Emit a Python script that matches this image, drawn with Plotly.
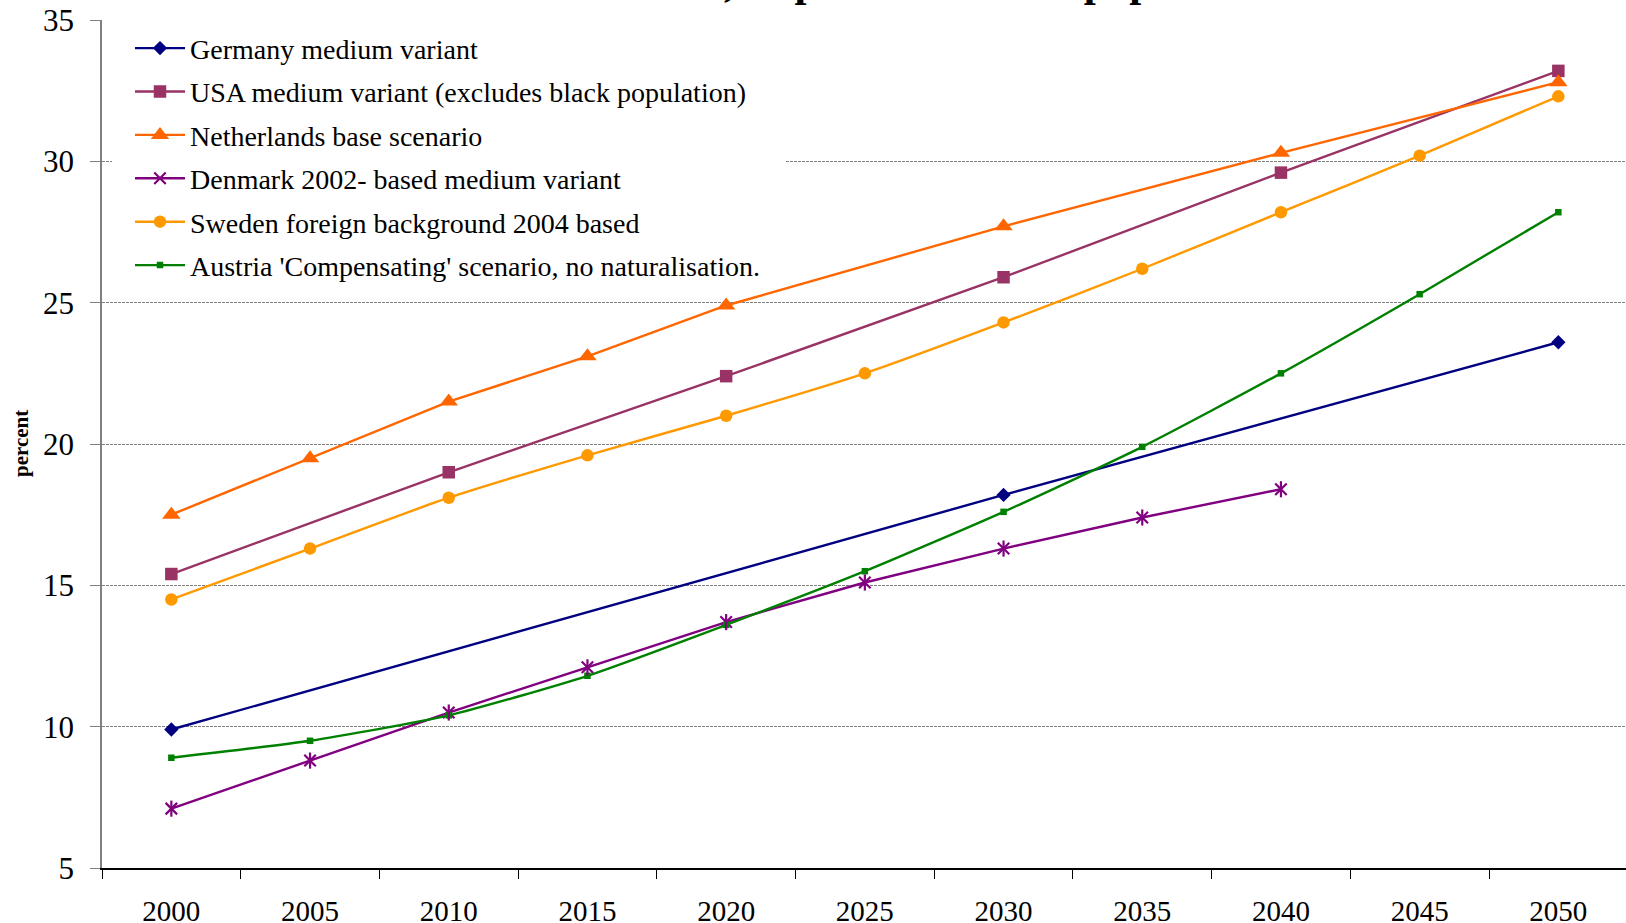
import plotly.graph_objects as go

# Projection years (category axis)
years = ["2000", "2005", "2010", "2015", "2020", "2025",
         "2030", "2035", "2040", "2045", "2050"]

# Percent of population, by projection (None = no value for that year)
germany = [9.9, None, None, None, None, None, 18.2, None, None, None, 23.6]
usa = [15.4, None, 19.0, None, 22.4, None, 25.9, None, 29.6, None, 33.2]
netherlands = [17.5, 19.5, 21.5, 23.1, 24.9, None, 27.7, None, 30.3, None, 32.8]
denmark = [7.1, 8.8, 10.5, 12.1, 13.7, 15.1, 16.3, 17.4, 18.4, None, None]
sweden = [14.5, 16.3, 18.1, 19.6, 21.0, 22.5, 24.3, 26.2, 28.2, 30.2, 32.3]
austria = [8.9, 9.5, 10.4, 11.8, 13.6, 15.5, 17.6, 19.9, 22.5, 25.3, 28.2]

series_names = [
    "Germany medium variant",
    "USA medium variant (excludes black population)",
    "Netherlands base scenario",
    "Denmark 2002- based medium variant",
    "Sweden foreign background 2004 based",
    "Austria 'Compensating' scenario, no naturalisation.",
]

SERIF = "Liberation Serif, Times New Roman, serif"
W, H = 1626, 923
ML, MR, MT, MB = 102, 0, 20, 55
PLOT_W = W - ML - MR
PLOT_H = H - MT - MB
CAT_PX = 138.7  # width of one year slot
Y_MIN, Y_MAX = 5, 35


def px_x(x):
    """Page pixel column -> paper x."""
    return (x - ML) / PLOT_W


def px_cat(x):
    """Page pixel column -> category-axis coordinate."""
    return (x - ML) / CAT_PX - 0.5


def px_val(y):
    """Page pixel row -> y-axis value."""
    return Y_MAX - (y - MT) * (Y_MAX - Y_MIN) / PLOT_H


fig = go.Figure()


def add_series(name, values, color, symbol, msize, shape="linear", mline=0):
    fig.add_trace(go.Scatter(
        x=years, y=values, name=name, mode="lines+markers",
        connectgaps=True, legendgroup=name,
        line=dict(color=color, width=2.4, shape=shape, smoothing=0.6),
        marker=dict(symbol=symbol, size=msize, color=color,
                    line=dict(color=color, width=mline)),
    ))


add_series(series_names[0], germany, "#000080", "diamond", 11)
add_series(series_names[1], usa, "#993366", "square", 12.5)
add_series(series_names[2], netherlands, "#FF6600", "triangle-up", 16)
add_series(series_names[3], denmark, "#800080", "x-thin-open", 11.5, mline=2.2)
add_series(series_names[4], sweden, "#FF9900", "circle", 12.5, shape="spline")
add_series(series_names[5], austria, "#008000", "square", 6.5, shape="spline")

# vertical stroke completing the six-armed star markers of the Denmark series
fig.add_trace(go.Scatter(
    x=years, y=denmark, mode="markers", showlegend=False, hoverinfo="skip",
    marker=dict(symbol="line-ns-open", size=11.5, color="#800080",
                line=dict(color="#800080", width=2.2)),
))

fig.update_layout(
    width=W, height=H,
    margin=dict(l=ML, r=MR, t=MT, b=MB),
    paper_bgcolor="white", plot_bgcolor="white",
    font=dict(family=SERIF, color="black"),
    showlegend=True,
    legend=dict(
        x=px_x(130), y=0.996, xanchor="left", yanchor="top",
        bgcolor="white", borderwidth=0,
        font=dict(family=SERIF, size=28, color="black"),
        tracegroupgap=4, traceorder="grouped", itemwidth=50,
    ),
    xaxis=dict(
        type="category", range=[-0.5, -0.5 + PLOT_W / CAT_PX],
        tickson="boundaries", ticks="outside", ticklen=9, tickcolor="black",
        showline=True, linecolor="black", linewidth=1.5,
        showgrid=False, zeroline=False, automargin=False,
        tickfont=dict(family=SERIF, size=29, color="black"),
        ticklabelstandoff=16,
    ),
    yaxis=dict(
        range=[Y_MIN, Y_MAX], tickmode="array",
        tickvals=[5, 10, 15, 20, 25, 30, 35],
        ticks="outside", ticklen=10, tickcolor="#808080",
        showline=True, linecolor="#808080", linewidth=1.5,
        showgrid=True, gridcolor="#808080", gridwidth=1, griddash="3px,1px",
        zeroline=False, automargin=False,
        tickfont=dict(family=SERIF, size=31, color="black"),
        ticklabelstandoff=10,
    ),
)

# white panel behind the legend: masks the gridlines, stays under the traces
fig.add_shape(
    type="rect", xref="x", yref="y", layer="between",
    x0=px_cat(112), x1=px_cat(786), y0=px_val(285), y1=px_val(26),
    fillcolor="white", line=dict(width=0),
)

# y-axis caption
fig.add_annotation(
    text="<b>percent</b>", textangle=-90, showarrow=False,
    xref="paper", yref="paper", x=px_x(21), y=0.5,
    xanchor="center", yanchor="middle",
    font=dict(family=SERIF, size=21, color="black"),
)

# chart title, set above the plot
fig.add_annotation(
    text="<b>Ethnic minorities, as percent of total population</b>",
    showarrow=False, xref="paper", yref="paper",
    x=px_x(403), y=1, xanchor="left", yanchor="bottom", yshift=13,
    font=dict(family=SERIF, size=43, color="black"),
)

fig.write_html("out.html")
